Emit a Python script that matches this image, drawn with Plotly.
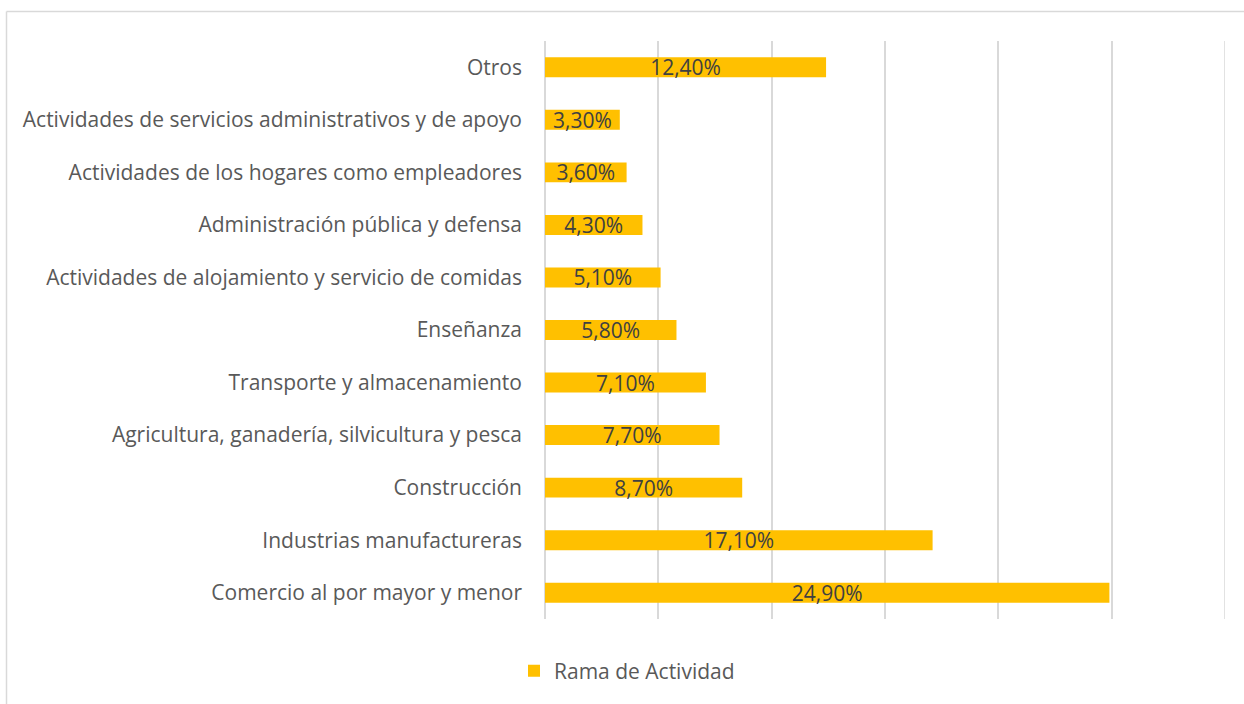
import plotly.graph_objects as go

categories = [
    "Comercio al por mayor y menor",
    "Industrias manufactureras",
    "Construcción",
    "Agricultura, ganadería, silvicultura y pesca",
    "Transporte y almacenamiento",
    "Enseñanza",
    "Actividades de alojamiento y servicio de comidas",
    "Administración pública y defensa",
    "Actividades de los hogares como empleadores",
    "Actividades de servicios administrativos y de apoyo",
    "Otros",
]
values = [24.9, 17.1, 8.7, 7.7, 7.1, 5.8, 5.1, 4.3, 3.6, 3.3, 12.4]
series_name = "Rama de Actividad"
labels = [f"{v:.2f}".replace(".", ",") + "%" for v in values]
x_max = 30

FONT = "Open Sans"
FS = 21
W, H = 1244, 704
L, R, T, B = 545, 19, 41, 85

fig = go.Figure()
fig.add_trace(go.Bar(
    y=categories, x=values, orientation="h", name=series_name,
    marker=dict(color="#FFC000", line=dict(width=0)),
    text=labels, textposition="inside", insidetextanchor="middle",
    constraintext="none",
    textfont=dict(family=FONT, size=FS, color="#404040"),
    width=0.38, showlegend=True,
))

pw, ph = W - L - R, H - T - B
def px(x): return (x - L) / pw
def py(y): return (H - B - y) / ph

fig.update_layout(
    width=W, height=H,
    margin=dict(l=L, r=R, t=T, b=B),
    paper_bgcolor="white", plot_bgcolor="white",
    font=dict(family=FONT, size=FS, color="#595959"),
    xaxis=dict(range=[0, x_max], dtick=5, showticklabels=False, showgrid=True,
               gridcolor="#D9D9D9", gridwidth=1.5, zeroline=True,
               zerolinecolor="#D9D9D9", zerolinewidth=1.5, showline=False,
               fixedrange=True),
    yaxis=dict(categoryorder="array", categoryarray=categories,
               tickfont=dict(family=FONT, size=FS, color="#595959"),
               ticklabelstandoff=22, showgrid=False, showline=False,
               fixedrange=True),
    legend=dict(orientation="h", xref="container", yref="container",
                x=514 / W, xanchor="left", y=(H - 671) / H, yanchor="middle",
                font=dict(family=FONT, size=FS, color="#595959"),
                itemwidth=30),
    bargap=0.62,
    shapes=[
        dict(type="line", xref="x", yref="paper", x0=x_max, x1=x_max,
             y0=0, y1=1, line=dict(color="#D9D9D9", width=1.5), layer="below"),
        dict(type="line", xref="paper", yref="paper", x0=px(6.5), x1=px(1260),
             y0=py(11.5), y1=py(11.5), line=dict(color="#D9D9D9", width=1.5)),
        dict(type="line", xref="paper", yref="paper", x0=px(6.5), x1=px(6.5),
             y0=py(11.5), y1=py(720), line=dict(color="#D9D9D9", width=1.5)),
    ],
)

fig.write_html("out.html", config={"displayModeBar": False},
               post_script="document.body.style.margin='0';document.body.style.padding='0';")
